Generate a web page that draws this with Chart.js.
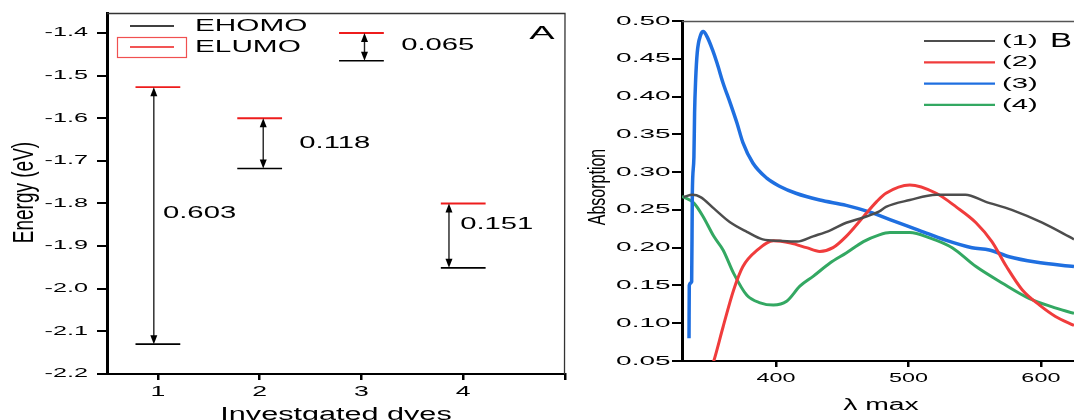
<!DOCTYPE html>
<html>
<head>
<meta charset="utf-8">
<title>Energy levels and absorption spectra</title>
<script src="https://cdn.jsdelivr.net/npm/chart.js@4.4.1/dist/chart.umd.min.js"></script>
<style>
  body { margin: 0; background: #fff; }
  #wrap { position: relative; width: 1074px; height: 420px; overflow: hidden; }
  .panel { position: absolute; top: 0; height: 420px; }
  #panelA { left: 0; width: 575px; }
  #panelB { left: 575px; width: 499px; }
</style>
</head>
<body>
<div id="wrap">
  <div class="panel" id="panelA"><canvas id="levels"></canvas></div>
  <div class="panel" id="panelB"><canvas id="spectra"></canvas></div>
</div>
<script>
// ---------- panel A : HOMO / LUMO levels ----------
const dyes = [1, 2, 3, 4];
const eLumo = [-1.527, -1.600, -1.400, -1.800];
const eHomo = [-2.130, -1.718, -1.465, -1.951];
const gapLabels = ['0.603', '0.118', '0.065', '0.151'];
const dyeTicks = [1, 2, 3, 4, 5];
const dyeTickLabels = ['1', '2', '3', '4', ''];
const energyTicks = [-2.2, -2.1, -2.0, -1.9, -1.8, -1.7, -1.6, -1.5, -1.4];

// ---------- panel B : absorption spectra ----------
const wl1 = [330, 337, 343, 353, 365, 378, 390, 403, 416, 428, 441, 453, 466, 478, 483, 501, 521, 543, 558, 578, 601, 625];
const abs1 = [0.267, 0.270, 0.267, 0.252, 0.234, 0.221, 0.211, 0.209, 0.208, 0.215, 0.223, 0.233, 0.240, 0.248, 0.254, 0.263, 0.270, 0.270, 0.261, 0.250, 0.233, 0.211];

const wl2 = [349, 353, 360, 368, 375, 386, 398, 411, 423, 433, 443, 453, 466, 476, 483, 501, 521, 536, 551, 563, 574, 586, 599, 611, 625];
const abs2 = [0.030, 0.050, 0.095, 0.144, 0.175, 0.197, 0.209, 0.206, 0.200, 0.195, 0.200, 0.215, 0.241, 0.261, 0.272, 0.283, 0.272, 0.254, 0.233, 0.208, 0.175, 0.144, 0.124, 0.109, 0.097];

const wl3 = [334.3, 334.5, 336.3, 336.8, 338, 338.5, 339.3, 340.5, 343, 345, 348, 352, 355.5, 360, 365.5, 370.5, 375, 382.5, 393, 403, 415, 433, 453, 471, 486, 508, 528, 548, 561, 576, 596, 625];
const abs3 = [0.080, 0.150, 0.155, 0.272, 0.320, 0.378, 0.422, 0.458, 0.481, 0.486, 0.479, 0.462, 0.444, 0.418, 0.391, 0.365, 0.339, 0.312, 0.292, 0.281, 0.272, 0.263, 0.256, 0.247, 0.237, 0.223, 0.210, 0.200, 0.197, 0.188, 0.181, 0.175];

const wl4 = [329, 338, 345, 353, 360, 368, 378, 388, 398, 408, 418, 428, 441, 453, 466, 478, 486, 501, 516, 533, 551, 571, 591, 608, 625];
const abs4 = [0.268, 0.259, 0.241, 0.215, 0.197, 0.166, 0.137, 0.127, 0.124, 0.129, 0.149, 0.162, 0.180, 0.193, 0.208, 0.217, 0.220, 0.220, 0.213, 0.200, 0.175, 0.153, 0.133, 0.122, 0.113];

const seriesNames = ['(1)', '(2)', '(3)', '(4)'];
const wlTicks = [400, 500, 600];
const absTicks = [0.05, 0.10, 0.15, 0.20, 0.25, 0.30, 0.35, 0.40, 0.45, 0.50];

// ---------- look ----------
const FONT = '"Liberation Sans", Arial, sans-serif';
const seriesColors = ['#4d4d4d', '#f03c3c', '#1f6fe0', '#33a862'];
const seriesWidths = [2.5, 3, 3.5, 3];
const LEVEL_HALF = 0.22;              // half width of a level bar (dye units)
const arrowDx = [-0.04, 0.035, 0.03, -0.14];
const labelDx = [0.05, 0.39, 0.39, -0.03];
const labelDy = [-2, 0, -2, -11];

// text in the figure is horizontally stretched, so draw it ourselves
function wideText(ctx, str, x, y, size, sx, align, baseline) {
    ctx.save();
    ctx.translate(x, y);
    ctx.scale(sx, 1);
    ctx.font = size + 'px ' + FONT;
    ctx.textAlign = align || 'left';
    ctx.textBaseline = baseline || 'middle';
    ctx.fillStyle = '#000';
    ctx.fillText(str, 0, 0);
    ctx.restore();
}

function tallText(ctx, str, x, y, size, sx) {
    ctx.save();
    ctx.translate(x, y);
    ctx.rotate(-Math.PI / 2);
    ctx.scale(1, sx);
    ctx.font = size + 'px ' + FONT;
    ctx.textAlign = 'center';
    ctx.textBaseline = 'alphabetic';
    ctx.fillStyle = '#000';
    ctx.fillText(str, 0, 0);
    ctx.restore();
}

function arrow(ctx, x, yTop, yBot) {
    const h = 9, w = 3.5;
    ctx.save();
    ctx.strokeStyle = '#222';
    ctx.fillStyle = '#000';
    ctx.lineWidth = 1.4;
    ctx.beginPath();
    ctx.moveTo(x, yTop + h - 2);
    ctx.lineTo(x, yBot - h + 2);
    ctx.stroke();
    ctx.beginPath();
    ctx.moveTo(x, yTop); ctx.lineTo(x - w, yTop + h); ctx.lineTo(x + w, yTop + h);
    ctx.closePath(); ctx.fill();
    ctx.beginPath();
    ctx.moveTo(x, yBot); ctx.lineTo(x - w, yBot - h); ctx.lineTo(x + w, yBot - h);
    ctx.closePath(); ctx.fill();
    ctx.restore();
}

function frame(ctx, a, withRight, color) {
    ctx.save();
    ctx.strokeStyle = color;
    ctx.lineWidth = 1.3;
    ctx.beginPath();
    ctx.moveTo(a.left, a.top + 0.5);
    ctx.lineTo(a.right, a.top + 0.5);
    if (withRight) ctx.lineTo(a.right - 0.5, a.bottom);
    ctx.stroke();
    ctx.restore();
}

function levelPoints(energies) {
    const pts = [];
    dyes.forEach((d, i) => {
        pts.push({x: d - LEVEL_HALF, y: energies[i]}, {x: d + LEVEL_HALF, y: energies[i]}, {x: d + 0.5, y: null});
    });
    return pts;
}

function axisOpts(min, max, ticks, size, tickLen, borderW, isY) {
    return {
        type: 'linear', min: min, max: max,
        afterBuildTicks: s => { s.ticks = ticks.map(v => ({value: v})); },
        afterFit: s => { if (isY) s.width = size; else s.height = size; },
        ticks: {display: false},
        grid: {drawOnChartArea: false, drawTicks: true, tickLength: tickLen, color: '#000', lineWidth: isY ? 2 : 2.5},
        border: {display: true, color: '#000', width: borderW}
    };
}

// ---------- panel A ----------
const levelsDecor = {
    id: 'levelsDecor',
    afterDraw(chart) {
        const ctx = chart.ctx, a = chart.chartArea;
        const x = chart.scales.x, y = chart.scales.y;
        frame(ctx, a, true, '#333');

        dyes.forEach((d, i) => {
            arrow(ctx, x.getPixelForValue(d + arrowDx[i]), y.getPixelForValue(eLumo[i]), y.getPixelForValue(eHomo[i]));
            const mid = (eLumo[i] + eHomo[i]) / 2;
            wideText(ctx, gapLabels[i], x.getPixelForValue(d + labelDx[i]), y.getPixelForValue(mid) + labelDy[i], 17, 1.72);
        });

        // legend
        ctx.save();
        ctx.lineWidth = 1.5;
        ctx.strokeStyle = '#000';
        ctx.beginPath(); ctx.moveTo(a.left + 23, a.top + 13); ctx.lineTo(a.left + 67, a.top + 13); ctx.stroke();
        ctx.strokeStyle = '#ee1c1c';
        ctx.beginPath(); ctx.moveTo(a.left + 23, a.top + 34); ctx.lineTo(a.left + 67, a.top + 34); ctx.stroke();
        ctx.strokeStyle = '#f05050';
        ctx.lineWidth = 1.2;
        ctx.strokeRect(a.left + 10.5, a.top + 24.5, 69, 20);
        ctx.restore();
        wideText(ctx, 'EHOMO', a.left + 88, a.top + 13, 17, 1.75);
        wideText(ctx, 'ELUMO', a.left + 88, a.top + 34, 17, 1.75);
        wideText(ctx, 'A', a.right - 23, a.top + 21, 19, 2.0, 'center');

        // tick labels and titles
        energyTicks.forEach(v => wideText(ctx, v.toFixed(1), a.left - 19, y.getPixelForValue(v), 12, 2.1, 'right'));
        dyeTicks.forEach((v, i) => wideText(ctx, dyeTickLabels[i], x.getPixelForValue(v), a.bottom + 18, 14, 1.9, 'center'));
        wideText(ctx, 'Investgated dyes', (a.left + a.right) / 2, 419.5, 18, 1.7, 'center', 'alphabetic');
        tallText(ctx, 'Energy (eV)', 33, (a.top + a.bottom) / 2 - 1, 19, 1.55);
    }
};

new Chart(document.getElementById('levels'), {
    type: 'line',
    data: {
        datasets: [
            {label: 'EHOMO', data: levelPoints(eHomo), borderColor: '#000', borderWidth: 1.6, pointRadius: 0, spanGaps: false},
            {label: 'ELUMO', data: levelPoints(eLumo), borderColor: '#ee1c1c', borderWidth: 1.8, pointRadius: 0, spanGaps: false}
        ]
    },
    options: {
        animation: false,
        responsive: true,
        maintainAspectRatio: false,
        layout: {padding: {top: 13, right: 10, left: 0, bottom: 0}},
        plugins: {legend: {display: false}, tooltip: {enabled: false}},
        scales: {
            x: axisOpts(0.5, 5, dyeTicks, 46, 6, 2, false),
            y: axisOpts(-2.2, -1.3531, energyTicks, 107, 10, 3, true)
        }
    },
    plugins: [levelsDecor]
});

// ---------- panel B ----------
const spectraDecor = {
    id: 'spectraDecor',
    afterDraw(chart) {
        const ctx = chart.ctx, a = chart.chartArea;
        const x = chart.scales.x, y = chart.scales.y;
        frame(ctx, a, false, '#555');

        seriesNames.forEach((name, i) => {
            const ly = a.top + 20 + i * 21.3;
            ctx.save();
            ctx.strokeStyle = seriesColors[i];
            ctx.lineWidth = 2.2;
            ctx.beginPath(); ctx.moveTo(a.left + 242, ly); ctx.lineTo(a.left + 313, ly); ctx.stroke();
            ctx.restore();
            wideText(ctx, name, a.left + 320, ly, 15, 1.95);
        });
        wideText(ctx, 'B', a.left + 368, a.top + 20, 20, 1.65);

        absTicks.forEach(v => wideText(ctx, v.toFixed(2), a.left - 11.5, y.getPixelForValue(v), 13, 2.15, 'right'));
        wlTicks.forEach(v => wideText(ctx, String(v), x.getPixelForValue(v), a.bottom + 17, 13, 1.8, 'center'));
        wideText(ctx, '\u03bb max', (a.left + a.right) / 2 + 3, 410, 16, 1.77, 'center', 'alphabetic');
        tallText(ctx, 'Absorption', 30, (a.top + a.bottom) / 2 - 4, 16, 1.45);
    }
};

const spectra = [[wl1, abs1], [wl2, abs2], [wl3, abs3], [wl4, abs4]];

new Chart(document.getElementById('spectra'), {
    type: 'line',
    data: {
        datasets: spectra.map((s, i) => ({
            label: seriesNames[i],
            data: s[0].map((w, j) => ({x: w, y: s[1][j]})),
            borderColor: seriesColors[i],
            borderWidth: seriesWidths[i],
            pointRadius: 0,
            cubicInterpolationMode: 'monotone'
        }))
    },
    options: {
        animation: false,
        responsive: true,
        maintainAspectRatio: false,
        layout: {padding: {top: 21, right: 0, left: 0, bottom: 0}},
        plugins: {legend: {display: false}, tooltip: {enabled: false}},
        scales: {
            x: axisOpts(329, 625, wlTicks, 59, 6, 2, false),
            y: axisOpts(0.05, 0.50, absTicks, 107, 10, 3, true)
        }
    },
    plugins: [spectraDecor]
});
</script>
</body>
</html>
